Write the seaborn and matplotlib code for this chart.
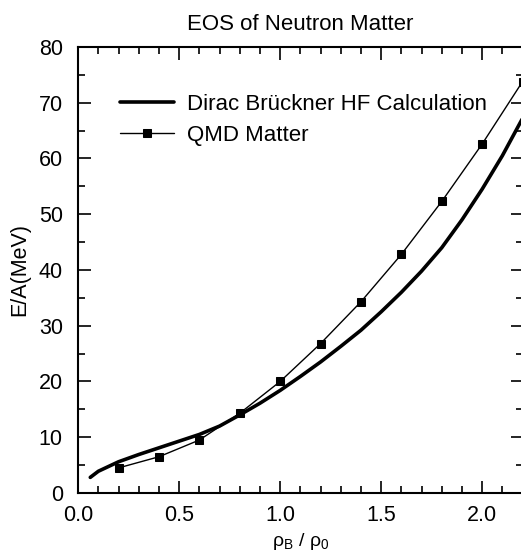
import matplotlib
matplotlib.use("Agg")
import matplotlib.pyplot as plt
import seaborn as sns
import pandas as pd
from matplotlib.ticker import MultipleLocator

sns.set_style("ticks")
plt.rcParams['font.family'] = ['Liberation Sans', 'DejaVu Sans']
plt.rcParams['text.color'] = 'black'
plt.rcParams['axes.labelcolor'] = 'black'
plt.rcParams['xtick.color'] = 'black'
plt.rcParams['ytick.color'] = 'black'

# DBHF curve
dbhf_x = [0.06, 0.1, 0.2, 0.3, 0.4, 0.5, 0.6, 0.7, 0.8, 0.9, 1.0, 1.1, 1.2, 1.3, 1.4, 1.5, 1.6, 1.7, 1.8, 1.9, 2.0, 2.1, 2.2]
dbhf_y = [2.8, 3.9, 5.6, 6.9, 8.1, 9.3, 10.5, 12.0, 14.0, 16.1, 18.4, 20.9, 23.5, 26.3, 29.2, 32.5, 36.0, 39.8, 44.0, 49.0, 54.5, 60.5, 67.2]

# QMD points
qmd_x = [0.2, 0.4, 0.6, 0.8, 1.0, 1.2, 1.4, 1.6, 1.8, 2.0, 2.2]
qmd_y = [4.5, 6.5, 9.5, 14.3, 20.0, 26.8, 34.3, 42.8, 52.3, 62.6, 73.8]

df1 = pd.DataFrame({"x": dbhf_x, "y": dbhf_y})
df2 = pd.DataFrame({"x": qmd_x, "y": qmd_y})

fig = plt.figure(figsize=(5.21, 5.58), dpi=100)
ax = fig.add_axes([0.150, 0.1165, 0.853, 0.7993])

sns.lineplot(data=df1, x="x", y="y", ax=ax, color="black", linewidth=2.6,
             label="Dirac Brückner HF Calculation")
sns.lineplot(data=df2, x="x", y="y", ax=ax, color="black", linewidth=1.0,
             marker="s", markersize=6, markeredgecolor="black",
             label="QMD Matter")

ax.set_xlim(0, 2.2)
ax.set_ylim(0, 80)
ax.xaxis.set_major_locator(MultipleLocator(0.5))
ax.xaxis.set_minor_locator(MultipleLocator(0.1))
ax.yaxis.set_major_locator(MultipleLocator(10))
ax.yaxis.set_minor_locator(MultipleLocator(5))
ax.xaxis.set_major_formatter(matplotlib.ticker.FormatStrFormatter('%.1f'))
ax.tick_params(which='both', direction='in', top=True, right=True, labelsize=15.5,
               width=1.2, color='black', labelcolor='black', pad=11)
ax.tick_params(axis='x', which='both', pad=9)
ax.tick_params(which='major', length=9)
ax.tick_params(which='minor', length=5)
for s in ax.spines.values():
    s.set_linewidth(1.5)
    s.set_color('black')

ax.set_title("EOS of Neutron Matter", fontsize=16, pad=12, color='black')
ax.set_xlabel("ρ$_\\mathregular{B}$ / ρ$_\\mathregular{0}$", fontsize=14, labelpad=3, color='black')
ax.set_ylabel("E/A(MeV)", fontsize=15.5, labelpad=6, color='black')

leg = ax.legend(loc="upper left", bbox_to_anchor=(0.05, 0.94), frameon=False,
                fontsize=16, handlelength=2.4, handletextpad=0.6, labelspacing=0.45)
for t in leg.get_texts():
    t.set_color('black')

fig.savefig("out.png", dpi=100)
